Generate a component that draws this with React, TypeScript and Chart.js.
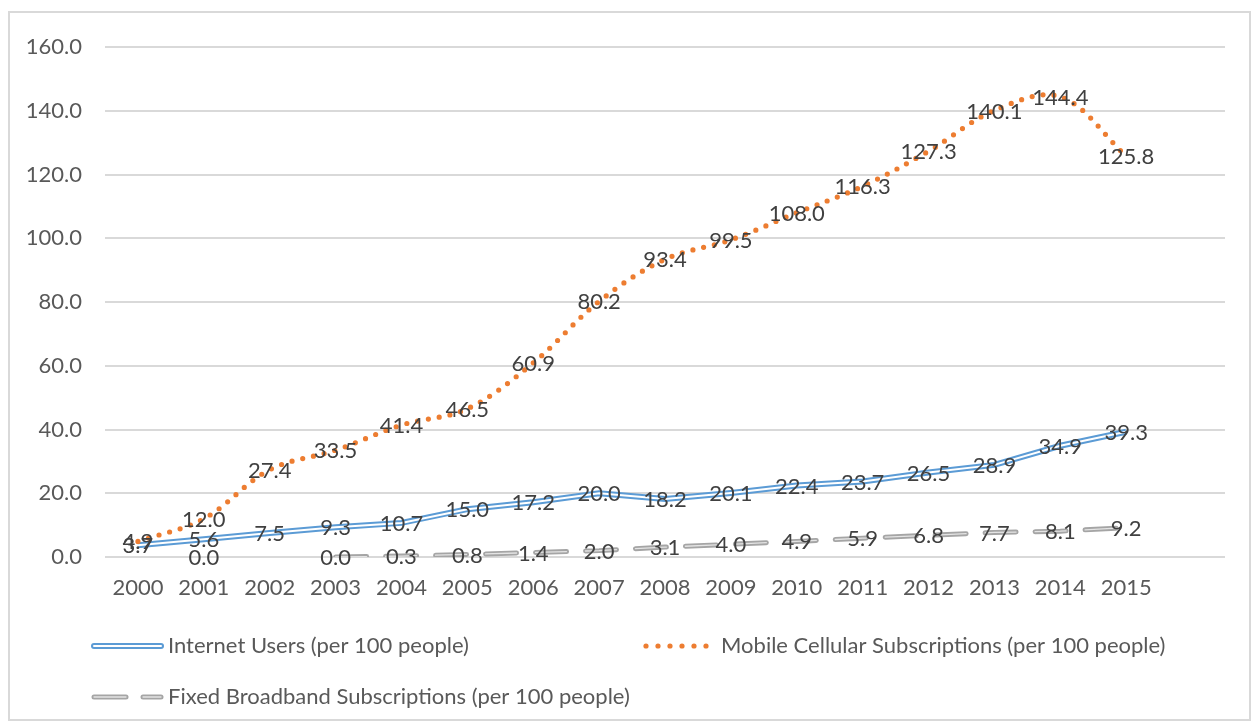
import { useEffect, useRef } from "react";
import { Chart, registerables } from "chart.js";

Chart.register(...registerables);

// Categories (the trailing blank slot keeps an empty column at the right edge)
const years = [
  "2000", "2001", "2002", "2003", "2004", "2005", "2006", "2007",
  "2008", "2009", "2010", "2011", "2012", "2013", "2014", "2015", "",
];

const internetUsers = [
  3.7, 5.6, 7.5, 9.3, 10.7, 15.0, 17.2, 20.0, 18.2, 20.1, 22.4, 23.7, 26.5, 28.9, 34.9, 39.3, null,
];
const mobileSubscriptions = [
  4.9, 12.0, 27.4, 33.5, 41.4, 46.5, 60.9, 80.2, 93.4, 99.5, 108.0, 116.3, 127.3, 140.1, 144.4, 125.8, null,
];
const broadbandSubscriptions = [
  null, 0.0, null, 0.0, 0.3, 0.8, 1.4, 2.0, 3.1, 4.0, 4.9, 5.9, 6.8, 7.7, 8.1, 9.2, null,
];

const yMin = 0;
const yMax = 160;
const yStep = 20;

const seriesNames = [
  "Internet Users (per 100 people)",
  "Mobile Cellular Subscriptions (per 100 people)",
  "Fixed Broadband Subscriptions (per 100 people)",
];

const BLUE = "#5B9BD5";
const ORANGE = "#ED7D31";
const GRAY = "#A5A5A5";
const GRAY_CORE = "#E4E4E4";
const FONT = "Lato, 'Open Sans', sans-serif";
const FONT_SIZE = 22;

const W = 1258;
const H = 727;

// White page with the light-grey chart frame
const framePlugin = {
  id: "frame",
  beforeDraw(chart: any) {
    const ctx = chart.ctx;
    ctx.save();
    ctx.fillStyle = "#ffffff";
    ctx.fillRect(0, 0, chart.width, chart.height);
    ctx.strokeStyle = "#D9D9D9";
    ctx.lineWidth = 2;
    ctx.strokeRect(9, 12, 1241, 708);
    ctx.restore();
  },
};

// Value labels centred on each point of the main series
const valueLabelPlugin = {
  id: "valueLabels",
  afterDatasetsDraw(chart: any) {
    const ctx = chart.ctx;
    ctx.save();
    ctx.font = `${FONT_SIZE}px ${FONT}`;
    ctx.fillStyle = "#404040";
    ctx.textAlign = "center";
    ctx.textBaseline = "middle";
    chart.data.datasets.forEach((ds: any, i: number) => {
      if (!ds.showValues) return;
      const meta = chart.getDatasetMeta(i);
      meta.data.forEach((pt: any, j: number) => {
        const v = ds.data[j];
        if (v === null || v === undefined) return;
        ctx.fillText(Number(v).toFixed(1), pt.x, pt.y + 1);
      });
    });
    ctx.restore();
  },
};

// Legend drawn below the plot with the compound / dotted / dashed line keys
const legendPlugin = {
  id: "customLegend",
  afterDraw(chart: any) {
    const ctx = chart.ctx;
    ctx.save();
    ctx.font = `${FONT_SIZE}px ${FONT}`;
    ctx.fillStyle = "#595959";
    ctx.textAlign = "left";
    ctx.textBaseline = "middle";

    const row1 = 646;
    const row2 = 697;

    // Internet users: double blue line
    ctx.lineCap = "round";
    ctx.strokeStyle = BLUE;
    ctx.lineWidth = 6;
    ctx.beginPath();
    ctx.moveTo(94, row1);
    ctx.lineTo(161, row1);
    ctx.stroke();
    ctx.strokeStyle = "#ffffff";
    ctx.lineWidth = 2;
    ctx.beginPath();
    ctx.moveTo(94, row1);
    ctx.lineTo(161, row1);
    ctx.stroke();
    ctx.fillText(seriesNames[0], 168, row1);

    // Mobile subscriptions: round orange dots
    ctx.fillStyle = ORANGE;
    for (let k = 0; k < 6; k++) {
      ctx.beginPath();
      ctx.arc(646 + k * 12, row1, 2.6, 0, Math.PI * 2);
      ctx.fill();
    }
    ctx.fillStyle = "#595959";
    ctx.fillText(seriesNames[1], 721, row1);

    // Fixed broadband: grey double long-dash
    const dashes = [
      [94, 126],
      [143, 161],
    ];
    dashes.forEach(([a, b]) => {
      ctx.strokeStyle = GRAY;
      ctx.lineWidth = 5;
      ctx.beginPath();
      ctx.moveTo(a, row2);
      ctx.lineTo(b, row2);
      ctx.stroke();
      ctx.strokeStyle = GRAY_CORE;
      ctx.lineWidth = 1.3;
      ctx.beginPath();
      ctx.moveTo(a, row2);
      ctx.lineTo(b, row2);
      ctx.stroke();
    });
    ctx.fillText(seriesNames[2], 168, row2);

    ctx.restore();
  },
};

export default function App() {
  const canvasRef = useRef<HTMLCanvasElement | null>(null);

  useEffect(() => {
    const canvas = canvasRef.current;
    if (!canvas) return;

    const chart = new Chart(canvas, {
      type: "line",
      data: {
        labels: years,
        datasets: [
          {
            label: seriesNames[0],
            data: internetUsers,
            borderColor: BLUE,
            borderWidth: 6,
            pointRadius: 0,
            tension: 0,
            order: 6,
            showValues: true,
          } as any,
          {
            label: "",
            data: internetUsers,
            borderColor: "#ffffff",
            borderWidth: 2,
            pointRadius: 0,
            tension: 0,
            order: 5,
          },
          {
            label: seriesNames[1],
            data: mobileSubscriptions,
            borderColor: ORANGE,
            borderWidth: 5.2,
            borderDash: [0, 11],
            borderCapStyle: "round",
            pointRadius: 0,
            tension: 0.35,
            order: 4,
            showValues: true,
          } as any,
          {
            label: seriesNames[2],
            data: broadbandSubscriptions,
            borderColor: GRAY,
            borderWidth: 5,
            borderDash: [31, 19],
            borderCapStyle: "round",
            pointRadius: 0,
            tension: 0,
            order: 3,
            showValues: true,
          } as any,
          {
            label: "",
            data: broadbandSubscriptions,
            borderColor: GRAY_CORE,
            borderWidth: 1.3,
            borderDash: [31, 19],
            borderCapStyle: "round",
            pointRadius: 0,
            tension: 0,
            order: 2,
          },
        ],
      },
      options: {
        responsive: false,
        devicePixelRatio: 1,
        animation: false,
        events: [],
        layout: {
          padding: { left: 0, right: 33, top: 47, bottom: 110 },
        },
        font: { family: FONT, size: FONT_SIZE },
        plugins: {
          legend: { display: false },
          tooltip: { enabled: false },
        },
        scales: {
          x: {
            type: "category",
            offset: true,
            grid: { display: false, drawTicks: false },
            border: { display: false },
            ticks: {
              color: "#595959",
              font: { family: FONT, size: FONT_SIZE },
              padding: 18,
              maxRotation: 0,
              autoSkip: false,
            },
            afterFit: (s: any) => {
              s.height = 60;
            },
          },
          y: {
            min: yMin,
            max: yMax,
            grid: { color: "#D9D9D9", lineWidth: 2, drawTicks: false },
            border: { display: false },
            ticks: {
              stepSize: yStep,
              color: "#595959",
              font: { family: FONT, size: FONT_SIZE },
              padding: 23,
              callback: (v: any) => Number(v).toFixed(1),
            },
            afterFit: (s: any) => {
              s.width = 105;
            },
          },
        },
      } as any,
      plugins: [framePlugin, valueLabelPlugin, legendPlugin],
    });

    return () => chart.destroy();
  }, []);

  return (
    <div style={{ position: "fixed", left: 0, top: 0, width: W, height: H, background: "#fff" }}>
      <canvas ref={canvasRef} width={W} height={H} style={{ display: "block", width: W, height: H }} />
    </div>
  );
}
